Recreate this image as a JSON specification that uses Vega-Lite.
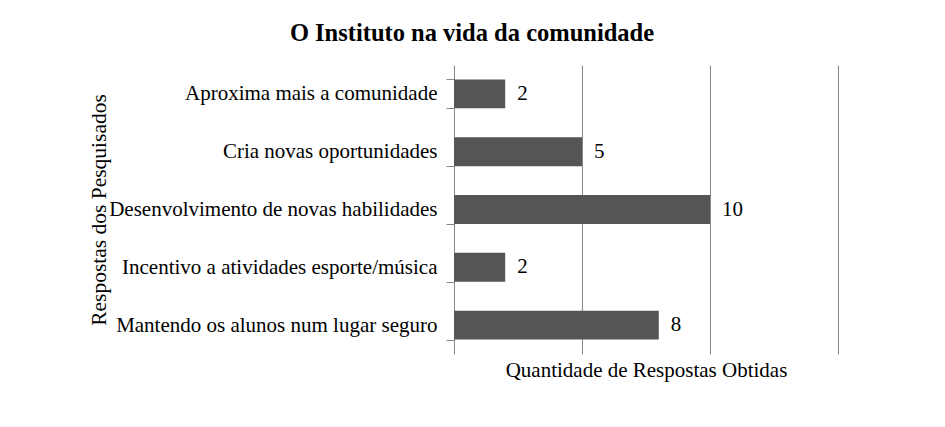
{
  "$schema": "https://vega.github.io/schema/vega-lite/v6.json",
  "autosize": "none",
  "padding": {"left": 454, "top": 65, "right": 107, "bottom": 73},
  "width": 384,
  "height": 289,
  "background": "white",
  "title": {
    "text": "O Instituto na vida da comunidade",
    "font": "Liberation Serif",
    "fontSize": 24.5,
    "fontWeight": "bold",
    "color": "black",
    "anchor": "middle",
    "dx": -174,
    "dy": 34,
    "baseline": "alphabetic",
    "offset": 23
  },
  "data": {
    "values": [
      {"resposta": "Aproxima mais a comunidade", "quantidade": 2},
      {"resposta": "Cria novas oportunidades", "quantidade": 5},
      {"resposta": "Desenvolvimento de novas habilidades", "quantidade": 10},
      {"resposta": "Incentivo a atividades esporte/música", "quantidade": 2},
      {"resposta": "Mantendo os alunos num lugar seguro", "quantidade": 8}
    ]
  },
  "encoding": {
    "y": {
      "field": "resposta",
      "type": "nominal",
      "sort": null,
      "scale": {"paddingInner": 0.5, "paddingOuter": 0.25},
      "axis": {
        "title": "Respostas dos Pesquisados",
        "titleFont": "Liberation Serif",
        "titleFontSize": 21.5,
        "titleFontWeight": "normal",
        "titleColor": "black",
        "titleX": -349,
        "titleY": 144.5,
        "titleAngle": -90,
        "titleAlign": "center",
        "titleBaseline": "alphabetic",
        "labelFont": "Liberation Serif",
        "labelFontSize": 21,
        "labelColor": "black",
        "labelPadding": 9,
        "labelLimit": 0,
        "tickBand": "extent",
        "tickSize": 8,
        "tickColor": "#878787",
        "domainColor": "#878787",
        "grid": false
      }
    },
    "x": {
      "field": "quantidade",
      "type": "quantitative",
      "scale": {"domain": [0, 15], "nice": false},
      "axis": {
        "title": "Quantidade de Respostas Obtidas",
        "titleFont": "Liberation Serif",
        "titleFontSize": 21,
        "titleFontWeight": "normal",
        "titleColor": "black",
        "titlePadding": 5,
        "values": [5, 10, 15],
        "labels": false,
        "ticks": false,
        "domain": false,
        "grid": true,
        "gridColor": "#878787",
        "gridOpacity": 1
      }
    }
  },
  "layer": [
    {"mark": {"type": "bar", "color": "#555555"}},
    {
      "mark": {"type": "text", "align": "left", "baseline": "middle", "dx": 12, "font": "Liberation Serif", "fontSize": 21, "color": "black"},
      "encoding": {"text": {"field": "quantidade", "type": "quantitative"}}
    }
  ],
  "config": {"view": {"stroke": null}}
}
